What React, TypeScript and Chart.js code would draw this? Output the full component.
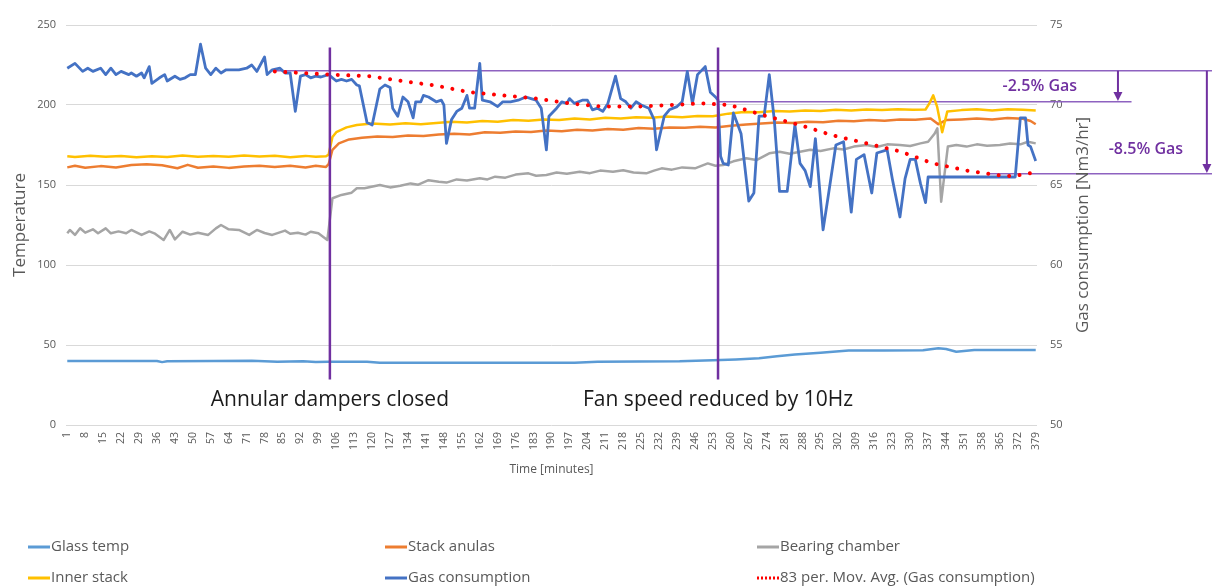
import React, { useEffect, useRef } from 'react';
import { Chart, registerables } from 'chart.js';

Chart.register(...registerables);

// ---------- DATA ----------
const minuteTicks = [1, 8, 15, 22, 29, 36, 43, 50, 57, 64, 71, 78, 85, 92, 99, 106, 113, 120, 127, 134, 141, 148, 155, 162, 169, 176, 183, 190, 197, 204, 211, 218, 225, 232, 239, 246, 253, 260, 267, 274, 281, 288, 295, 302, 309, 316, 323, 330, 337, 344, 351, 358, 365, 372, 379];

const seriesNames = ['Glass temp', 'Stack anulas', 'Bearing chamber', 'Inner stack', 'Gas consumption', '83 per. Mov. Avg. (Gas consumption)'];

// [minute, temperature]
const glassTemp: [number, number][] = [
  [1, 40], [18, 40], [36, 40], [38, 39.3], [40, 39.8], [58, 40], [73, 40.2], [83, 39.6], [93, 39.8], [98, 39.3], [103, 39.6],
  [118, 39.5], [123, 38.9], [199, 38.9], [208, 39.5], [240, 39.8], [253, 40.4], [262, 41], [271, 41.7], [278, 43], [285, 44],
  [295, 45.2], [306, 46.5], [320, 46.5], [335, 46.7], [341, 47.9], [344, 47.5], [348, 45.8], [355, 46.9], [379, 46.9],
];

const stackAnulas: [number, number][] = [
  [1, 161], [4, 162], [8, 160.8], [14, 161.8], [20, 161], [26, 162.5], [32, 163], [38, 162.4], [44, 160.5], [48, 162.6], [52, 160.8],
  [58, 161.6], [64, 160.7], [70, 161.5], [76, 162], [82, 161.2], [88, 162], [94, 161], [98, 162], [102, 161.3], [103, 163],
  [104.5, 172], [107, 176], [111, 178.5], [116, 179.5], [122, 180.3], [128, 180], [134, 181], [140, 180.6], [146, 181.5], [152, 182],
  [158, 181.5], [164, 183], [170, 182.6], [176, 183.5], [182, 183.2], [188, 184], [194, 183.6], [200, 184.5], [206, 184], [212, 185],
  [218, 184.6], [224, 185.6], [230, 185.2], [236, 186], [242, 185.8], [248, 186.4], [254, 186], [260, 187], [266, 187.8], [272, 188.4],
  [278, 189], [284, 188.8], [290, 189.6], [296, 189.2], [302, 190.2], [308, 189.8], [314, 190.6], [320, 190.2], [326, 191], [332, 190.8],
  [338, 191.6], [341, 188], [344, 190.6], [350, 191], [356, 191.6], [362, 191], [368, 191.8], [374, 191.4], [377, 190], [379, 188],
];

const bearingChamber: [number, number][] = [
  [1, 119.8], [2, 121.9], [4, 118.8], [6, 123], [8, 120.2], [11, 122.3], [13, 119.8], [16, 122.9], [18, 119.8], [21, 121], [24, 119.8],
  [26, 121.9], [30, 118.8], [33, 121], [35, 119.8], [38.6, 115.6], [41, 121.9], [43, 116], [46, 120.8], [49, 119], [52, 120.2],
  [56, 118.8], [59, 122.9], [61, 125], [64, 122.3], [68, 121.9], [72, 118.8], [75, 121.9], [78, 120], [81, 118.8], [86, 121.5],
  [88, 119.5], [91, 120.2], [94, 119], [96, 120.8], [99, 119.8], [102.5, 115.6], [104.5, 141.7], [108, 143.8], [112, 145.2], [114, 148],
  [117, 148], [123, 150], [127, 148.5], [131, 149.5], [135, 151], [138, 150.2], [142, 153], [146, 152], [149, 151.5], [153, 153.5],
  [157, 152.8], [162, 154.2], [165, 153.5], [168, 155.2], [172, 154.6], [176, 156.5], [181, 157.3], [184, 155.8], [188, 156.3],
  [192, 157.8], [196, 157], [201, 158.3], [205, 157.4], [209, 159], [214, 158.3], [218, 159.2], [222, 157.8], [227, 157.3], [230, 159],
  [233, 160.4], [237, 159.6], [241, 161], [246, 160.4], [251, 163.5], [254, 162], [257, 162.5], [261, 164.8], [266, 166.7], [270, 165.6],
  [275, 169.8], [279, 170.8], [283, 169.5], [287, 170.8], [291, 172], [295, 171.2], [300, 172.9], [304, 172.2], [308, 174], [313, 175],
  [317, 173.8], [321, 175.4], [326, 175], [330, 174.4], [334, 176], [337, 177], [339.5, 182], [340.6, 185.4], [342.1, 139.6],
  [344.7, 174], [348, 175], [352, 174], [356, 175.4], [360, 174.6], [365, 175], [369, 176], [373, 175.4], [376, 177], [379, 176],
];

const innerStack: [number, number][] = [
  [1, 168], [4, 167.5], [10, 168.3], [16, 167.6], [22, 168.2], [28, 167.4], [34, 168], [40, 167.5], [46, 168.4], [52, 167.7], [58, 168.2],
  [64, 167.6], [70, 168.5], [76, 167.8], [82, 168.3], [88, 167.4], [94, 168.2], [98, 167.6], [102, 168], [103, 169], [104.5, 180],
  [106, 183], [110, 186], [114, 187.5], [120, 188.5], [127, 187.8], [133, 188.6], [139, 188], [145, 188.8], [151, 189.5], [157, 189],
  [163, 190], [169, 189.6], [175, 190.6], [181, 190.2], [187, 191], [193, 190.6], [199, 191.5], [205, 191], [211, 192], [217, 191.6],
  [223, 192.4], [229, 192], [235, 192.8], [241, 192.4], [247, 193.2], [253, 193], [259, 194.6], [265, 195.6], [271, 195.4], [277, 196.2],
  [283, 196], [289, 196.6], [295, 196.2], [301, 197], [307, 196.6], [313, 197.2], [319, 196.8], [325, 197.4], [331, 197], [336, 197.2],
  [337.5, 201], [339, 206], [340.5, 199], [342.5, 183], [344.5, 196], [350, 196.8], [356, 197.3], [362, 196.6], [368, 197.4],
  [374, 197], [379, 196.5],
];

// [minute, Nm3/hr]
const gasConsumption: [number, number][] = [
  [1, 72.3], [4, 72.6], [7, 72.1], [9, 72.3], [11, 72.1], [14, 72.3], [16, 71.9], [18, 72.3], [20, 71.9], [22, 72.1], [25, 71.9],
  [26, 72.0], [28, 71.8], [30, 72.0], [31, 71.7], [33, 72.4], [34, 71.35], [37, 71.7], [39, 71.9], [40, 71.5], [43, 71.8], [45, 71.6],
  [47, 71.7], [49, 71.9], [51, 71.9], [53, 73.8], [55, 72.3], [57, 71.9], [59, 72.3], [61, 72.0], [63, 72.2], [68, 72.2], [71, 72.3],
  [73, 72.5], [75, 72.1], [78, 73.0], [79, 71.9], [81, 72.2], [84, 72.3], [86, 72.0], [88, 72.0], [90, 69.6], [92, 71.8], [94, 71.9],
  [96, 71.7], [98, 71.8], [100, 71.75], [103, 71.9], [106, 71.5], [108, 71.6], [110, 71.5], [112, 71.6], [114, 71.25], [115, 71.2],
  [118, 68.9], [120, 68.75], [123, 71.0], [125, 71.25], [127, 71.1], [128, 69.8], [130, 69.3], [132, 70.5], [134, 70.2], [136, 69.2],
  [137, 70.2], [139, 70.2], [140, 70.6], [142, 70.5], [145, 70.2], [147, 70.3], [148, 70.0], [149, 67.6], [151, 69.1], [153, 69.6],
  [155, 69.8], [157, 70.6], [158, 69.8], [160, 69.8], [162, 72.6], [163, 70.3], [166, 70.2], [169, 69.9], [171, 70.2], [174, 70.2],
  [177, 70.3], [180, 70.5], [182, 70.4], [184, 70.3], [186, 69.8], [188, 67.2], [189, 69.3], [192, 69.8], [194, 70.2], [196, 70.1],
  [197, 70.4], [199, 70.1], [202, 70.3], [204, 70.3], [206, 69.7], [208, 69.8], [210, 69.6], [212, 70.1], [215, 71.8], [217, 70.4],
  [219, 70.2], [221, 69.8], [223, 70.2], [225, 70.0], [228, 69.8], [230, 69.1], [231, 67.2], [234, 69.3], [236, 69.7], [239, 69.9],
  [241, 70.2], [243, 72.1], [245, 70.1], [247, 71.9], [250, 72.4], [252, 70.8], [254, 70.5], [255, 70.3], [256, 66.8], [257, 66.35],
  [259, 66.25], [261, 69.5], [264, 68.2], [267, 64.0], [269, 64.5], [271, 69.3], [273, 69.3], [275, 71.9], [277, 69.0], [279, 64.6],
  [282, 64.6], [285, 68.75], [287, 66.35], [289, 65.9], [291, 64.9], [293, 67.9], [296, 62.2], [298, 64.3], [301, 67.5], [304, 67.7],
  [307, 63.3], [309, 66.6], [312, 66.9], [315, 64.5], [317, 67.0], [321, 67.2], [323, 65.4], [326, 63.0], [328, 65.4], [330, 66.6],
  [332, 66.6], [334, 65.1], [336, 63.9], [337, 65.5], [371, 65.5], [373, 69.2], [375, 69.2], [376, 67.5], [377, 67.4], [379, 66.5],
];

const gasMovAvg: [number, number][] = [
  [82, 72.1], [103.4, 71.9], [119, 71.8], [131.9, 71.5], [145.2, 71.2], [158, 70.8], [170.9, 70.6], [184.2, 70.4], [197.1, 70.1],
  [210, 69.9], [223.3, 69.9], [236.1, 70.0], [249, 70.1], [259.6, 70.0], [274, 69.3], [286.9, 68.75], [299.8, 68.1], [313.1, 67.6],
  [326, 67.1], [338.9, 66.35], [352.2, 65.9], [365.1, 65.6], [370.2, 65.55], [379, 65.8],
];

// annotations (minutes / gas-axis values)
const eventMinutes = [103.5, 255];
const eventLabels = ['Annular dampers closed', 'Fan speed reduced by 10Hz'];
const eventLineTop = 73.6;
const eventLineBottom = 52.85;
const eventLabelLevel = 51.56;

const refLevels = [72.14, 70.2, 65.7];
const refStarts = [81, 255, 361];
const refEnds = [447.8, 416.4, 447.8];

const arrowMinutes = [411.1, 445.8];
const arrowFrom = [72.14, 72.14];
const arrowTo = [70.25, 65.75];
const arrowLabels = ['-2.5% Gas', '-8.5% Gas'];
const arrowLabelMinutes = [380.6, 422];
const arrowLabelLevels = [71.13, 67.25];

// ---------- STYLE ----------
const FONT = '"Open Sans", "DejaVu Sans", sans-serif';
const TEXT_GREY = '#595959';
const PURPLE = '#7030A0';
const REF_PURPLE = '#8E62C0';
const colors = ['#5B9BD5', '#ED7D31', '#A5A5A5', '#FFC000', '#4472C4', '#FF0000'];

const overlayPlugin = {
  id: 'overlay',
  afterDraw(chart: any) {
    const { ctx, scales, chartArea } = chart;
    const xs = scales.x;
    const ys = scales.y1;
    ctx.save();

    // event labels
    ctx.fillStyle = '#1b1b1b';
    ctx.font = `21px ${FONT}`;
    ctx.textAlign = 'center';
    ctx.textBaseline = 'middle';
    eventLabels.forEach((t, i) => {
      ctx.fillText(t, xs.getPixelForValue(eventMinutes[i]), ys.getPixelForValue(eventLabelLevel));
    });

    // arrows
    ctx.strokeStyle = PURPLE;
    ctx.fillStyle = PURPLE;
    ctx.lineWidth = 2;
    arrowMinutes.forEach((m, i) => {
      const x = xs.getPixelForValue(m);
      const y0 = ys.getPixelForValue(arrowFrom[i]);
      const y1 = ys.getPixelForValue(arrowTo[i]);
      ctx.beginPath();
      ctx.moveTo(x, y0);
      ctx.lineTo(x, y1 - 6);
      ctx.stroke();
      ctx.beginPath();
      ctx.moveTo(x - 4.5, y1 - 9);
      ctx.lineTo(x + 4.5, y1 - 9);
      ctx.lineTo(x, y1);
      ctx.closePath();
      ctx.fill();
    });

    // arrow labels
    ctx.font = `600 16px ${FONT}`;
    arrowLabels.forEach((t, i) => {
      ctx.fillText(t, xs.getPixelForValue(arrowLabelMinutes[i]), ys.getPixelForValue(arrowLabelLevels[i]));
    });

    // right axis title (reads bottom to top)
    ctx.save();
    ctx.translate(1083, (chartArea.top + chartArea.bottom) / 2);
    ctx.rotate(-Math.PI / 2);
    ctx.fillStyle = TEXT_GREY;
    ctx.font = `17px ${FONT}`;
    ctx.fillText('Gas consumption [Nm3/hr]', 0, 0);
    ctx.restore();

    // legend (3 columns x 2 rows)
    const colX = [28, 385, 757];
    const rowY = [547, 578];
    ctx.font = `15px ${FONT}`;
    ctx.textAlign = 'left';
    seriesNames.forEach((name, i) => {
      const x = colX[i % 3];
      const y = rowY[Math.floor(i / 3)];
      ctx.strokeStyle = colors[i];
      ctx.lineWidth = 3;
      if (i === 5) ctx.setLineDash([2, 2]); else ctx.setLineDash([]);
      ctx.beginPath();
      ctx.moveTo(x, y);
      ctx.lineTo(x + 22, y);
      ctx.stroke();
      ctx.setLineDash([]);
      ctx.fillStyle = TEXT_GREY;
      ctx.fillText(name, x + 23, y);
    });

    ctx.restore();
  },
};

export default function App() {
  const ref = useRef<HTMLCanvasElement>(null);

  useEffect(() => {
    const canvas = ref.current;
    if (!canvas) return;
    const toXY = (arr: [number, number][]) => arr.map(([x, y]) => ({ x, y }));
    const line = (i: number, data: [number, number][], axis: string, order: number, extra: any = {}) => ({
      type: 'line',
      label: seriesNames[i],
      data: toXY(data),
      borderColor: colors[i],
      backgroundColor: colors[i],
      borderWidth: 2.5,
      borderJoinStyle: 'round',
      pointRadius: 0,
      tension: 0,
      yAxisID: axis,
      order,
      ...extra,
    });

    const datasets: any[] = [
      line(0, glassTemp, 'y', 6),
      line(1, stackAnulas, 'y', 4),
      line(2, bearingChamber, 'y', 5),
      line(3, innerStack, 'y', 3),
      line(4, gasConsumption, 'y1', 2, { borderWidth: 2.8 }),
      line(5, gasMovAvg, 'y1', 1, { borderDash: [0.01, 10.5], borderCapStyle: 'round', borderWidth: 4 }),
      ...eventMinutes.map((m) => ({
        type: 'line',
        label: 'event',
        data: [{ x: m, y: eventLineTop }, { x: m, y: eventLineBottom }],
        borderColor: PURPLE,
        borderWidth: 2.5,
        pointRadius: 0,
        yAxisID: 'y1',
        order: 0,
      })),
      ...refLevels.map((lv, i) => ({
        type: 'line',
        label: 'ref',
        data: [{ x: refStarts[i], y: lv }, { x: refEnds[i], y: lv }],
        borderColor: REF_PURPLE,
        borderWidth: 1.6,
        pointRadius: 0,
        yAxisID: 'y1',
        order: 7,
        clip: false,
      })),
    ];

    const chart = new Chart(canvas, {
      type: 'line',
      data: { datasets },
      plugins: [overlayPlugin],
      options: {
        animation: false,
        responsive: false,
        maintainAspectRatio: false,
        devicePixelRatio: 1,
        layout: { padding: { top: 25, bottom: 107, left: 0, right: 0 } },
        plugins: { legend: { display: false }, tooltip: { enabled: false } },
        scales: {
          x: {
            type: 'linear',
            min: 0.5,
            max: 379.5,
            bounds: 'data',
            afterBuildTicks: (s: any) => {
              s.ticks = minuteTicks.map((v) => ({ value: v }));
            },
            afterFit: (s: any) => {
              s.height = 56;
            },
            ticks: {
              autoSkip: false,
              maxRotation: 90,
              minRotation: 90,
              padding: 7,
              color: TEXT_GREY,
              font: { family: FONT, size: 10.5 },
              callback: (v: any) => String(v),
            },
            grid: { display: false, drawTicks: false },
            border: { display: false },
            title: {
              display: true,
              text: 'Time [minutes]',
              color: TEXT_GREY,
              font: { family: FONT, size: 12 },
              padding: { top: 2, bottom: 4 },
            },
          },
          y: {
            position: 'left',
            min: 0,
            max: 250,
            afterFit: (s: any) => {
              s.width = 66;
            },
            ticks: { stepSize: 50, color: TEXT_GREY, font: { family: FONT, size: 11 }, padding: 10 },
            grid: { color: '#D9D9D9', lineWidth: 1, drawTicks: false },
            border: { display: false },
            title: {
              display: true,
              text: 'Temperature',
              color: TEXT_GREY,
              font: { family: FONT, size: 17 },
              padding: { top: 10, bottom: 0 },
            },
          },
          y1: {
            position: 'right',
            min: 50,
            max: 75,
            afterFit: (s: any) => {
              s.width = 175;
            },
            ticks: { stepSize: 5, color: TEXT_GREY, font: { family: FONT, size: 11 }, padding: 13 },
            grid: { display: false, drawTicks: false },
            border: { display: false },
          },
        },
      } as any,
    } as any);

    return () => chart.destroy();
  }, []);

  return (
    <div style={{ position: 'absolute', left: 0, top: 0, width: 1212, height: 588, background: '#fff' }}>
      <canvas ref={ref} width={1212} height={588} style={{ display: 'block' }} />
    </div>
  );
}
